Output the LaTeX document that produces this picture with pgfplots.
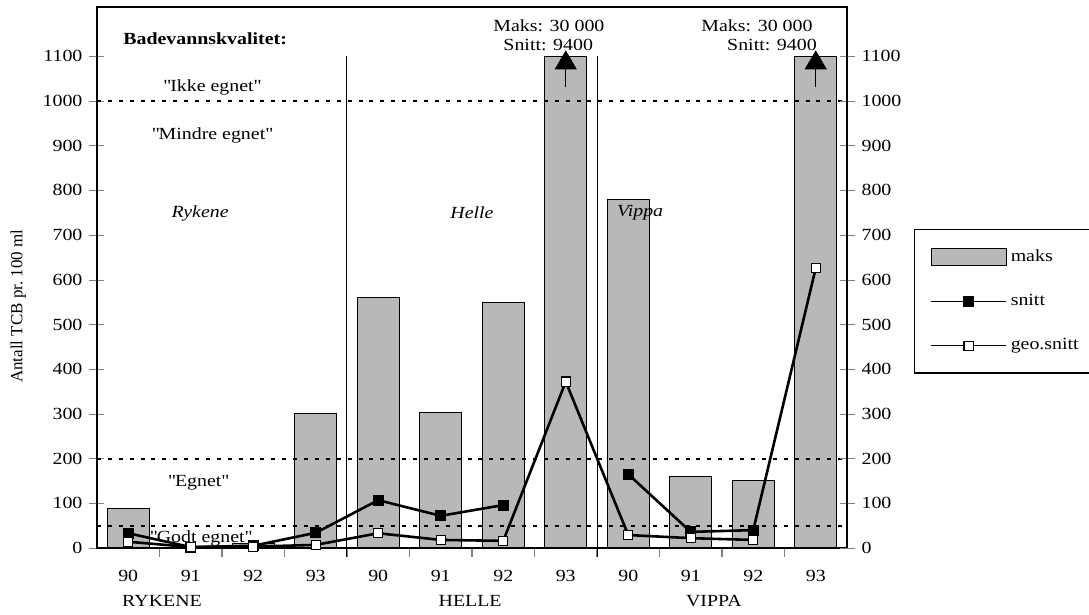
\documentclass[border=0pt]{standalone}
\usepackage{pgfplots}
\pgfplotsset{compat=1.18}
\usepackage{fontspec}
\setmainfont{Liberation Serif}[FakeStretch=1.17]
\newfontfamily\uprightserif{Liberation Serif}
\usetikzlibrary{arrows.meta}

\definecolor{barfill}{gray}{0.72}

\pgfplotsset{
  tcbframe/.style={
    at={(0,0)}, anchor=south west,
    scale only axis, width=375pt, height=270.5pt,
    xmin=0.5, xmax=12.5, ymin=0, ymax=1210,
    axis line style={line width=0.6pt},
    ytick={0,100,...,1100}, ytick align=center,
    major tick length=7.5pt,
    yticklabel style={/pgf/number format/assume math mode=true,
      /pgf/number format/1000 sep={}},
  },
  linelegend/.style={legend image code/.code={
    \draw[mark repeat=2, mark phase=2, ##1, line width=0.6pt]
      plot coordinates {(0pt,0pt) (18.75pt,0pt) (37.5pt,0pt)};}},
  barlegend/.style={legend image code/.code={
    \draw[##1] (0pt,-4.25pt) rectangle (37.5pt,4.25pt);}},
}
\tikzset{bold text/.style={font=\fontsize{8.5}{10}\selectfont\bfseries},
         site text/.style={font=\fontsize{8.5}{10}\selectfont\itshape}}

\begin{document}
\begin{tikzpicture}[font=\fontsize{8.5}{10}\selectfont]
\path[use as bounding box] (-48.5pt,-33.5pt) rectangle (496pt,274pt);
\begin{axis}[
  tcbframe,
  clip=false,
  ytick pos=left,
  xtick={1,...,12},
  xticklabels={90,91,92,93,90,91,92,93,90,91,92,93},
  xtick pos=left, xtick align=outside,
  major x tick style={draw=none},
  minor xtick={1.5,2.5,...,11.5},
  minor x tick style={line width=0.6pt},
  minor tick length=4.5pt,
  ylabel={Antall TCB pr.\ 100 ml},
  ylabel style={font=\uprightserif\fontsize{8.5}{10}\selectfont,
    at={(axis description cs:-0.105,0.447)}, anchor=center},
  legend style={at={(axis description cs:1.0893,0.5896)}, anchor=north west,
    draw=black, line width=0.6pt, inner xsep=8pt, inner ysep=8pt,
    row sep=11pt, legend cell align=left},
]
% maks
\addplot[ybar, bar width=0.67, fill=barfill, draw=black, line width=0.5pt, barlegend]
  coordinates {(1,89) (2,2) (3,10) (4,300) (5,561) (6,302) (7,550) (8,1100)
               (9,780) (10,160) (11,150) (12,1100)};
% snitt
\addplot[black, line width=1.3pt, mark=square*, mark size=2.5pt,
  mark options={solid, fill=black, line width=0.5pt},
  unbounded coords=jump, linelegend]
  coordinates {(1,33) (2,2) (3,5) (4,34) (5,107) (6,72) (7,96) (8,nan)
               (9,165) (10,36) (11,40)};
\addplot[black, line width=1.3pt, forget plot]
  coordinates {(11,40) (12,626)};
% geo.snitt
\addplot[black, line width=1.3pt, mark=square*, mark size=2.3pt,
  mark options={solid, fill=white, line width=0.6pt}, linelegend]
  coordinates {(1,14) (2,2) (3,3) (4,7) (5,33) (6,18) (7,16) (8,372)
               (9,29) (10,22) (11,18)};
\addplot[only marks, mark=square*, mark size=2.3pt,
  mark options={solid, fill=white, draw=black, line width=0.6pt}, forget plot]
  coordinates {(12,626)};
\legend{maks,snitt,geo.snitt}

% quality limits
\draw[line width=1pt, dash pattern=on 2pt off 3.45pt]
  (axis cs:0.5,1000) -- (axis cs:12.5,1000);
\draw[line width=1pt, dash pattern=on 2pt off 3.45pt]
  (axis cs:0.5,200) -- (axis cs:12.5,200);
\draw[line width=1pt, dash pattern=on 2pt off 3.45pt]
  (axis cs:0.5,50) -- (axis cs:12.5,50);
% site separators
\draw[line width=0.5pt] (axis cs:4.5,1100) -- (axis cs:4.5,-20);
\draw[line width=0.5pt] (axis cs:8.5,1100) -- (axis cs:8.5,-20);
% off-scale arrows
\draw[line width=0.6pt, -{Triangle[length=9.5pt,width=11pt]}]
  (axis cs:8,1030) -- (axis cs:8,1113);
\draw[line width=0.6pt, -{Triangle[length=9.5pt,width=11pt]}]
  (axis cs:12,1030) -- (axis cs:12,1113);

\node[bold text] at (axis cs:2.23,1138) {Badevannskvalitet:};
\node at (axis cs:2.34,1031) {\textquotedbl Ikke egnet\textquotedbl};
\node at (axis cs:2.34,923) {\textquotedbl Mindre egnet\textquotedbl};
\node[site text] at (axis cs:2.15,749) {Rykene};
\node[site text] at (axis cs:6.5,749) {Helle};
\node[site text] at (axis cs:9.19,749) {Vippa};
\node at (axis cs:2.12,145) {\textquotedbl Egnet\textquotedbl};
\node at (axis cs:2.16,22) {\textquotedbl Godt egnet\textquotedbl};
\node at (axis cs:7.73,1169) {Maks: 30 000};
\node at (axis cs:7.72,1124) {Snitt: 9400};
\node at (axis cs:11.06,1169) {Maks: 30 000};
\node at (axis cs:11.3,1124) {Snitt: 9400};
\node at (axis cs:1.54,-118) {RYKENE};
\node at (axis cs:6.47,-118) {HELLE};
\node at (axis cs:10.37,-118) {VIPPA};
\end{axis}

\begin{axis}[
  tcbframe,
  axis x line=none, axis y line*=right,
]
\end{axis}
\end{tikzpicture}
\end{document}
